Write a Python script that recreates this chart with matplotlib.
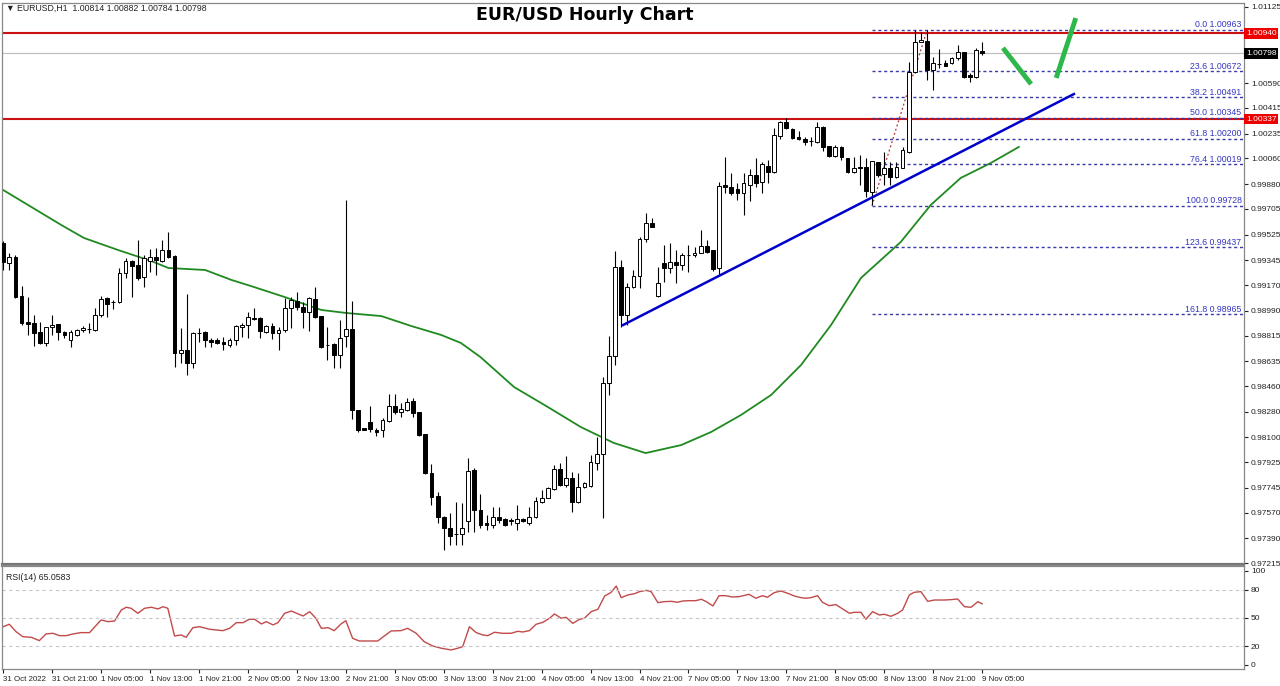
import numpy as np
import matplotlib.pyplot as plt
from matplotlib.transforms import blended_transform_factory

plt.rcParams['font.family'] = ['Liberation Sans', 'DejaVu Sans']

# EURUSD H1 candles, bar 0 = 31 Oct 13:00, last bar = 9 Nov 05:00
opens = [0.99466, 0.99325, 0.99367, 0.99093, 0.98910, 0.98903, 0.98840, 0.98763, 0.98875, 0.98896,
         0.98840, 0.98784, 0.98819, 0.98854, 0.98861, 0.98854, 0.98959, 0.99079, 0.99051, 0.99051,
         0.99255, 0.99339, 0.99311, 0.99227, 0.99339, 0.99367, 0.99339, 0.99416, 0.99374, 0.98692,
         0.98713, 0.98622, 0.98833, 0.98840, 0.98784, 0.98784, 0.98770, 0.98749, 0.98784, 0.98875,
         0.98889, 0.98938, 0.98938, 0.98840, 0.98882, 0.98833, 0.98854, 0.99009, 0.99058, 0.99016,
         0.98980, 0.99072, 0.98952, 0.98749, 0.98756, 0.98678, 0.98812, 0.98861, 0.98292, 0.98165,
         0.98207, 0.98151, 0.98151, 0.98214, 0.98320, 0.98278, 0.98292, 0.98355, 0.98278, 0.98123,
         0.97849, 0.97687, 0.97540, 0.97462, 0.97420, 0.97420, 0.97511, 0.97870, 0.97589, 0.97497,
         0.97483, 0.97540, 0.97525, 0.97511, 0.97497, 0.97525, 0.97497, 0.97540, 0.97645, 0.97673,
         0.97736, 0.97877, 0.97764, 0.97814, 0.97645, 0.97750, 0.97757, 0.97919, 0.97982, 0.98482,
         0.98671, 0.99297, 0.98959, 0.99156, 0.99234, 0.99494, 0.99606, 0.99093, 0.99325, 0.99290,
         0.99332, 0.99311, 0.99381, 0.99381, 0.99395, 0.99445, 0.99416, 0.99290, 0.99873, 0.99859,
         0.99845, 0.99817, 0.99873, 0.99944, 0.99894, 1.00007, 0.99965, 1.00218, 1.00316, 1.00267,
         1.00211, 1.00197, 1.00183, 1.00176, 1.00281, 1.00148, 1.00077, 1.00141, 1.00063, 0.99965,
         1.00000, 1.00000, 0.99824, 1.00035, 0.99951, 0.99993, 0.99930, 0.99993, 1.00105, 1.00668,
         1.00879, 1.00886, 1.00682, 1.00724, 1.00731, 1.00731, 1.00766, 1.00808, 1.00647, 1.00633,
         1.00814]
closes = [0.99332, 0.99367, 0.99086, 0.98903, 0.98896, 0.98833, 0.98763, 0.98875, 0.98889, 0.98840,
          0.98819, 0.98840, 0.98854, 0.98868, 0.98863, 0.98959, 0.99072, 0.99037, 0.99053, 0.99255,
          0.99339, 0.99304, 0.99220, 0.99360, 0.99367, 0.99346, 0.99416, 0.99367, 0.98692, 0.98713,
          0.98622, 0.98833, 0.98835, 0.98784, 0.98770, 0.98763, 0.98756, 0.98784, 0.98882, 0.98889,
          0.98945, 0.98931, 0.98847, 0.98882, 0.98833, 0.98854, 0.99009, 0.99065, 0.99016, 0.98980,
          0.99079, 0.98945, 0.98734, 0.98751, 0.98678, 0.98798, 0.98861, 0.98292, 0.98151, 0.98151,
          0.98158, 0.98137, 0.98221, 0.98320, 0.98278, 0.98299, 0.98348, 0.98271, 0.98116, 0.97849,
          0.97680, 0.97540, 0.97462, 0.97406, 0.97422, 0.97462, 0.97863, 0.97589, 0.97483, 0.97483,
          0.97540, 0.97518, 0.97483, 0.97518, 0.97525, 0.97511, 0.97540, 0.97652, 0.97673, 0.97743,
          0.97877, 0.97764, 0.97814, 0.97645, 0.97750, 0.97779, 0.97926, 0.97982, 0.98482, 0.98671,
          0.99297, 0.98959, 0.99156, 0.99234, 0.99494, 0.99606, 0.99578, 0.99185, 0.99290, 0.99332,
          0.99311, 0.99381, 0.99383, 0.99395, 0.99445, 0.99402, 0.99283, 0.99866, 0.99859, 0.99817,
          0.99817, 0.99887, 0.99944, 0.99887, 1.00021, 0.99965, 1.00225, 1.00316, 1.00274, 1.00204,
          1.00197, 1.00176, 1.00185, 1.00281, 1.00141, 1.00077, 1.00141, 1.00070, 0.99965, 0.99993,
          0.99993, 0.99831, 1.00042, 0.99944, 0.99993, 0.99930, 1.00000, 1.00119, 1.00668, 1.00879,
          1.00893, 1.00682, 1.00731, 1.00726, 1.00710, 1.00766, 1.00808, 1.00633, 1.00633, 1.00823,
          1.00798]
highs = [0.99480, 0.99395, 0.99381, 0.99163, 0.99086, 0.98959, 0.98910, 0.98875, 0.98959, 0.98896,
         0.98847, 0.98854, 0.98861, 0.98882, 0.98903, 0.99009, 0.99093, 0.99086, 0.99065, 0.99290,
         0.99360, 0.99345, 0.99487, 0.99381, 0.99423, 0.99430, 0.99487, 0.99543, 0.99381, 0.98868,
         0.99107, 0.98840, 0.98868, 0.98847, 0.98798, 0.98798, 0.98805, 0.98798, 0.98889, 0.98903,
         0.98980, 0.99009, 0.98945, 0.98889, 0.98903, 0.98875, 0.99079, 0.99086, 0.99121, 0.99051,
         0.99086, 0.99156, 0.98955, 0.98875, 0.98760, 0.98924, 0.99768, 0.99058, 0.98295, 0.98168,
         0.98320, 0.98165, 0.98235, 0.98404, 0.98404, 0.98341, 0.98376, 0.98376, 0.98281, 0.98126,
         0.97912, 0.97715, 0.97543, 0.97568, 0.97645, 0.97638, 0.97954, 0.97884, 0.97701, 0.97554,
         0.97610, 0.97610, 0.97532, 0.97532, 0.97624, 0.97532, 0.97610, 0.97680, 0.97729, 0.97750,
         0.97905, 0.97919, 0.97968, 0.97856, 0.97849, 0.97786, 0.97975, 0.98102, 0.98524, 0.98812,
         0.99409, 0.99346, 0.99185, 0.99276, 0.99508, 0.99677, 0.99641, 0.99297, 0.99452, 0.99466,
         0.99416, 0.99395, 0.99452, 0.99437, 0.99557, 0.99487, 0.99420, 0.99895, 1.00070, 0.99958,
         0.99887, 0.99958, 0.99986, 1.00063, 1.00035, 1.00049, 1.00274, 1.00320, 1.00344, 1.00274,
         1.00253, 1.00211, 1.00211, 1.00316, 1.00285, 1.00150, 1.00155, 1.00145, 1.00066, 1.00070,
         1.00084, 1.00063, 1.00045, 1.00038, 1.00105, 1.00035, 1.00035, 1.00141, 1.00738, 1.00963,
         1.00950, 1.00963, 1.00773, 1.00830, 1.00752, 1.00773, 1.00858, 1.00812, 1.00661, 1.00837,
         1.00882]
lows = [0.99276, 0.99276, 0.99079, 0.98889, 0.98819, 0.98741, 0.98756, 0.98741, 0.98819, 0.98784,
        0.98798, 0.98734, 0.98812, 0.98840, 0.98833, 0.98847, 0.98945, 0.98945, 0.99002, 0.99044,
        0.99220, 0.99086, 0.99206, 0.99156, 0.99262, 0.99241, 0.99335, 0.99360, 0.98594, 0.98622,
        0.98538, 0.98587, 0.98770, 0.98734, 0.98734, 0.98756, 0.98713, 0.98734, 0.98749, 0.98805,
        0.98798, 0.98924, 0.98798, 0.98833, 0.98791, 0.98713, 0.98840, 0.98868, 0.98995, 0.98868,
        0.98847, 0.98940, 0.98727, 0.98643, 0.98587, 0.98587, 0.98734, 0.98228, 0.98137, 0.98148,
        0.98137, 0.98109, 0.98102, 0.98210, 0.98264, 0.98243, 0.98285, 0.98243, 0.98109, 0.97845,
        0.97624, 0.97497, 0.97307, 0.97343, 0.97343, 0.97343, 0.97434, 0.97434, 0.97462, 0.97448,
        0.97462, 0.97497, 0.97476, 0.97483, 0.97448, 0.97504, 0.97483, 0.97532, 0.97638, 0.97670,
        0.97729, 0.97760, 0.97750, 0.97575, 0.97638, 0.97743, 0.97750, 0.97870, 0.97532, 0.98397,
        0.98608, 0.98875, 0.98889, 0.99149, 0.99149, 0.99473, 0.99575, 0.99086, 0.99192, 0.99255,
        0.99185, 0.99276, 0.99262, 0.99367, 0.99392, 0.99395, 0.99269, 0.99248, 0.99817, 0.99803,
        0.99768, 0.99663, 0.99761, 0.99859, 0.99817, 0.99887, 0.99958, 1.00197, 1.00267, 1.00197,
        1.00190, 1.00155, 1.00148, 1.00169, 1.00112, 1.00070, 1.00070, 1.00049, 0.99958, 0.99958,
        0.99873, 0.99789, 0.99733, 0.99930, 0.99873, 0.99873, 0.99923, 0.99990, 1.00098, 1.00661,
        1.00876, 1.00612, 1.00541, 1.00696, 1.00710, 1.00724, 1.00752, 1.00626, 1.00598, 1.00626,
        1.00784]

# moving average (green), sampled along the bar axis
ma_idx = [0, 9.5, 13.2, 18.8, 24.2, 27, 33, 37.3, 40.5, 46, 48.7, 52, 56, 61.8, 66.7, 71.6, 74.8,
          78, 83.5, 89, 94.4, 99.8, 105, 110.8, 115.7, 120.6, 125.5, 130.4, 135.3, 140.2, 146.7,
          151.6, 156.5, 161.4, 166]
ma_val = [0.99838, 0.99592, 0.99501, 0.99416, 0.99339, 0.99290, 0.99276, 0.99206, 0.99163, 0.99086,
          0.99044, 0.98995, 0.98974, 0.98952, 0.98882, 0.98819, 0.98763, 0.98664, 0.98453, 0.98313,
          0.98172, 0.98060, 0.97989, 0.98045, 0.98137, 0.98257, 0.98397, 0.98608, 0.98889, 0.99220,
          0.99473, 0.99733, 0.99923, 1.00028, 1.00141]

# RSI(14)
rsi_idx = [0, 1, 2.1, 3.2, 4.6, 5.9, 7, 8.1, 9.2, 10.3, 11.4, 12.7, 14.1, 16, 17.1, 18.2, 19.3, 20.1,
           20.9, 22, 23.1, 24.2, 25.3, 26.1, 26.9, 28, 29.1, 29.9, 31, 32.1, 33.7, 35.9, 37, 38.1,
           39.2, 40.2, 41.1, 42.2, 43, 44.1, 44.9, 46, 47.1, 49, 50.1, 51.1, 52, 53.1, 54.1, 55.2,
           56, 57.1, 58.2, 61.2, 63.4, 65, 66.1, 67.5, 68.8, 70.2, 71.6, 73.2, 74.3, 75.1, 76.2,
           77.3, 78.4, 79.2, 80.3, 81.6, 83, 84.1, 84.9, 86, 87.1, 88.2, 89.3, 90.1, 91.2, 92, 93.1,
           94.2, 95, 96.1, 97.2, 98.3, 99.3, 100.2, 101, 102.1, 103.2, 104, 105.1, 105.9, 107,
           108.1, 109.2, 110.2, 111.1, 112.1, 113.2, 114.1, 114.9, 116, 117, 118.1, 119.2, 120.3,
           121.9, 123, 124.1, 124.9, 126, 127.1, 128.2, 129.3, 130.4, 131.2, 132, 133.1, 133.9,
           135, 136.1, 137.2, 138.3, 139.1, 140.2, 141, 142.1, 143.2, 144, 145.1, 146.2, 147,
           148.1, 148.9, 150, 151.1, 152.2, 153.8, 154.9, 156, 157.1, 158.2, 159.3, 160]
rsi_val = [40.7, 43.3, 35.4, 30.1, 29.4, 25.9, 33, 33.7, 31.2, 31.2, 33, 34.4, 34.4, 47.9, 46.1,
           46.8, 58.5, 61.4, 60.3, 55, 60.3, 61.4, 59.6, 62, 60.3, 30.9, 31.9, 29.4, 39.7, 40.7,
           38, 36.5, 39, 45, 45, 48.6, 48.6, 43.6, 46.1, 42.6, 45, 55, 57.4, 52.1, 56.7, 49.7, 39,
           39.7, 36.5, 43.6, 47.1, 28.4, 25.5, 25.5, 36.2, 36.5, 39, 33.7, 24.8, 20.2, 17.8, 16,
           17.8, 19.5, 40.7, 34.4, 31.9, 31.2, 34.8, 33.7, 33.7, 35.8, 35.1, 36.5, 43.3, 45.4,
           49.7, 54.3, 49.7, 50.7, 44.3, 48.6, 49.7, 56.7, 59.3, 73.4, 76.9, 84, 71.6, 74.5, 75.9,
           78, 79.4, 78, 66.3, 67.4, 67.7, 66.7, 68.1, 68.4, 68.4, 69.9, 67.4, 62.8, 73.7, 73.7,
           72.3, 72.7, 75.2, 71, 73.7, 72, 76.9, 78.7, 76.3, 73.4, 71.6, 71, 71.6, 73.7, 66.7,
           63.1, 64.2, 59.6, 55, 56, 56, 48.6, 56.7, 53.2, 53.9, 51.8, 55, 58.5, 74.5, 77.3, 78,
           67.7, 69.1, 69.1, 69.5, 70.2, 62, 61.4, 67.4, 65.06]

# levels and drawn objects
resistance = [1.00940, 1.00337]
last_price = 1.00798
fib_pct = ['0.0', '23.6', '38.2', '50.0', '61.8', '76.4', '100.0', '123.6', '161.8']
fib_lvl = [1.00963, 1.00672, 1.00491, 1.00345, 1.00200, 1.00019, 0.99728, 0.99437, 0.98965]
fib_start = 142
fib_anchor_idx = [142, 151]
fib_anchor_val = [0.99728, 1.00963]
trend_idx = [101.3, 175]
trend_val = [0.98889, 1.00513]
arrow1_idx, arrow1_val = [163.4, 168], [1.00837, 1.00583]
arrow2_idx, arrow2_val = [172.1, 175.3], [1.00626, 1.01047]

price_ticks = [1.01125, 1.00950, 1.00770, 1.00590, 1.00415, 1.00235, 1.00060, 0.99880, 0.99705,
               0.99525, 0.99345, 0.99170, 0.98990, 0.98815, 0.98635, 0.98460, 0.98280, 0.98100,
               0.97925, 0.97745, 0.97570, 0.97390, 0.97215]
hidden_ticks = [1.00950, 1.00770]  # covered by the price boxes
time_labels = ['31 Oct 2022', '31 Oct 21:00', '1 Nov 05:00', '1 Nov 13:00', '1 Nov 21:00',
               '2 Nov 05:00', '2 Nov 13:00', '2 Nov 21:00', '3 Nov 05:00', '3 Nov 13:00',
               '3 Nov 21:00', '4 Nov 05:00', '4 Nov 13:00', '4 Nov 21:00', '7 Nov 05:00',
               '7 Nov 13:00', '7 Nov 21:00', '8 Nov 05:00', '8 Nov 13:00', '8 Nov 21:00',
               '9 Nov 05:00']

W, H = 1280, 686
fs = 6.0
fig = plt.figure(figsize=(W / 100, H / 100), dpi=100)
ax = fig.add_axes([2 / W, (H - 564) / H, 1242 / W, 561 / H])
ax2 = fig.add_axes([2 / W, (H - 669) / H, 1242 / W, 103 / H])

o = np.array(opens)
c = np.array(closes)
hi = np.array(highs)
lo = np.array(lows)
idx = np.arange(len(o))
up = c >= o

# candles
ax.vlines(idx, lo, hi, color='black', lw=0.8, zorder=3)
body_h = np.maximum(np.abs(c - o), 0.00002)
ax.bar(idx[up], body_h[up], bottom=np.minimum(o, c)[up], width=0.62,
       facecolor='white', edgecolor='black', lw=0.7, zorder=4)
ax.bar(idx[~up], body_h[~up], bottom=np.minimum(o, c)[~up], width=0.62,
       facecolor='black', edgecolor='black', lw=0.7, zorder=4)

ax.plot(ma_idx, ma_val, color='#1f8a1f', lw=1.3, zorder=2)
ax.plot(trend_idx, trend_val, color='#0000cc', lw=1.8, zorder=5)
ax.plot(arrow1_idx, arrow1_val, color='#2eb84b', lw=3.5, solid_capstyle='butt', zorder=5)
ax.plot(arrow2_idx, arrow2_val, color='#2eb84b', lw=3.5, solid_capstyle='butt', zorder=5)

ax.axhline(last_price, color='#c0c0c0', lw=0.9, zorder=1)
for r in resistance:
    ax.axhline(r, color='#cc1111', lw=1.5, zorder=2)

ax.plot(fib_anchor_idx, fib_anchor_val, color='#b03030', lw=0.9, ls=(0, (1.5, 2)), zorder=2)
xmax = 202.8
trans = blended_transform_factory(ax.transAxes, ax.transData)
for p, v in zip(fib_pct, fib_lvl):
    ax.hlines(v, fib_start, xmax, color='#3a3aa8', lw=1.0, ls=(0, (2.2, 2)), zorder=2)
    ax.text(0.998, v + 0.00004, f'{p} {v:.5f}', transform=trans, ha='right', va='bottom',
            fontsize=6.3, color='#3535c0')

ax.set_xlim(-0.2, xmax)
ax.set_ylim(0.97209, 1.01153)
ax.yaxis.tick_right()
ax.set_yticks(price_ticks)
ax.set_yticklabels(['' if t in hidden_ticks else f'{t:.5f}' for t in price_ticks])
ax.tick_params(axis='y', labelsize=fs, length=3, pad=2, colors='#222222')
ax.set_xticks([])

# price boxes on the right axis
for r in resistance:
    ax.text(1.0015, r, f'{r:.5f}', transform=trans, ha='left', va='center', fontsize=fs,
            color='white', bbox=dict(facecolor='#ee0000', edgecolor='none', pad=1.4), zorder=10,
            clip_on=False)
ax.text(1.0015, last_price, f'{last_price:.5f}', transform=trans, ha='left', va='center',
        fontsize=fs, color='white', bbox=dict(facecolor='black', edgecolor='none', pad=1.4),
        zorder=10, clip_on=False)

for s in ax.spines.values():
    s.set_color('#888888')
    s.set_linewidth(0.9)
ax.spines['bottom'].set_linewidth(1.6)
ax.spines['bottom'].set_color('#777777')

# RSI panel
ax2.plot(rsi_idx, rsi_val, color='#c24a4a', lw=1.0)
for lvl in [80, 50, 20]:
    ax2.axhline(lvl, color='#c8c8c8', lw=0.8, ls=(0, (3, 3)))
ax2.set_xlim(-0.2, xmax)
ax2.set_ylim(-4.3, 105.3)
ax2.yaxis.tick_right()
ax2.set_yticks([0, 20, 50, 80, 100])
ax2.tick_params(axis='y', labelsize=fs, length=3, pad=2, colors='#222222')
ax2.set_xticks(np.arange(0, 161, 8))
ax2.set_xticklabels(time_labels, ha='left')
ax2.tick_params(axis='x', labelsize=5.7, length=3, pad=2, colors='#222222')
ax2.text(0.003, 0.86, 'RSI(14) 65.0583', transform=ax2.transAxes, fontsize=6.3, color='#222222')
for s in ax2.spines.values():
    s.set_color('#888888')
    s.set_linewidth(0.9)
ax2.spines['top'].set_linewidth(1.6)

fig.text(6 / W, 1 - 8 / H, '\u25bc EURUSD,H1  1.00814 1.00882 1.00784 1.00798', fontsize=6.3,
         va='center', color='#222222')
fig.text(585 / W, 1 - 15 / H, 'EUR/USD Hourly Chart', ha='center', va='center',
         fontsize=12.5, fontweight='bold', family=['DejaVu Sans'])

fig.savefig('out.png', dpi=100, facecolor='white')
